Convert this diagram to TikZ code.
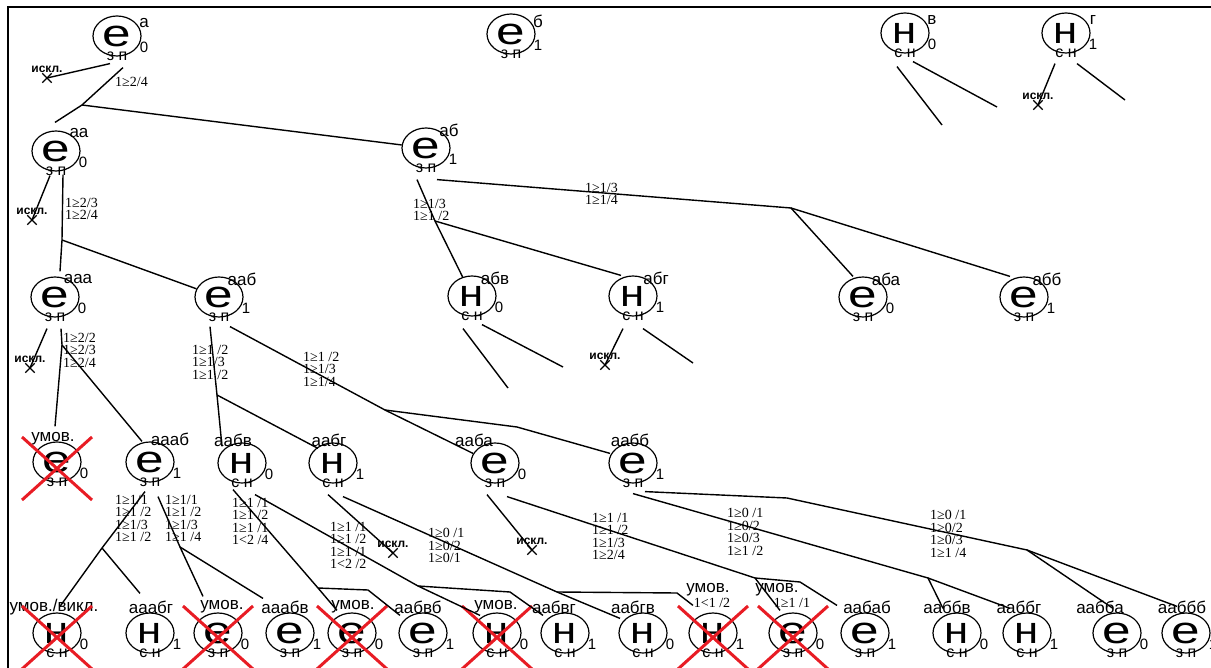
\documentclass[tikz,border=0pt]{standalone}
\usepackage{fontspec}
\setmainfont{Liberation Sans}
\newfontfamily\condfont{Liberation Serif}
\usetikzlibrary{shapes.geometric, shapes.misc, positioning, calc}
\definecolor{crossred}{RGB}{232,28,36}
\newcommand{\eletter}{\scalebox{1.35}[1]{е}}
\newcommand{\nletter}{\scalebox{1.15}[1]{н}}

\begin{document}
\begin{tikzpicture}[
    x=1pt, y=-1pt,
    every node/.style={inner sep=0pt},
    vert/.style={ellipse, draw, line width=1.2pt, minimum width=48pt, minimum height=40pt, font=\fontsize{38}{38}\selectfont},
    bot/.style={anchor=center, font=\fontsize{16}{16}\selectfont},
    sub/.style={anchor=center, font=\fontsize{15}{15}\selectfont},
    tag/.style={font=\fontsize{17}{17}\selectfont},
    ez/.style={vert, label={[bot, yshift=-20pt]center:з п}},
    nz/.style={vert, label={[bot, yshift=-20pt]center:с н}},
    s0/.style={label={[sub, xshift=27pt, yshift=-11pt]center:0}},
    s1/.style={label={[sub, xshift=27pt, yshift=-11pt]center:1}},
    tr0/.style={label={[tag, anchor=base west, xshift=27pt, yshift=13pt]center:#1}},
    tr/.style={label={[tag, anchor=base west, xshift=23pt, yshift=18pt]center:#1}},
    tu/.style 2 args={label={[tag, anchor=base, xshift=#1pt, yshift=23pt]center:#2}},
    tw/.style 2 args={label={[tag, anchor=base, xshift=#1pt, yshift=26pt]center:#2}},
    cond/.style={font=\condfont\fontsize{14}{12.5}\selectfont, align=left, anchor=north west},
    excl/.style={cross out, draw, line width=1.3pt, minimum size=8pt, label={[font=\bfseries\fontsize{12}{12}\selectfont, label distance=1pt]above:искл.}},
    line/.style={line width=1.4pt},
    redx/.style={draw=crossred, line width=3pt}
]
\useasboundingbox (0,0) rectangle (1211,668);

% frame
\draw[line width=2.5pt] (1211,7) -- (8,7) -- (8,668);

% level 0
\node[ez, s0, tr0=а] (a) at (117,36) {\eletter};
\node[ez, s1, tr0=б] (b) at (511,34) {\eletter};
\node[nz, s0, tr0=в] (v) at (905,33) {\nletter};
\node[nz, s1, tr0=г] (g) at (1066,33) {\nletter};

% level 1
\node[ez, s0, tr=аа] (aa) at (56,151) {\eletter};
\node[ez, s1, tr=аб] (ab) at (426,148) {\eletter};

% level 2
\node[ez, s0, tr=ааа] (aaa) at (55,297) {\eletter};
\node[ez, s1, tr=ааб] (aab) at (219,297) {\eletter};
\node[nz, s0, tr=абв] (abv) at (472,296) {\nletter};
\node[nz, s1, tr=абг] (abg) at (633,296) {\nletter};
\node[ez, s0, tr=аба] (aba) at (863,297) {\eletter};
\node[ez, s1, tr=абб] (abb) at (1024,297) {\eletter};

% level 3
\node[ez, s0, tu={-4}{умов.}] (aaaa) at (57,462) {\eletter};
\node[ez, s1, tu={20}{аааб}] (aaab) at (150,462) {\eletter};
\node[nz, s0, tu={-9}{аабв}] (aabv) at (242,463) {\nletter};
\node[nz, s1, tu={-4}{аабг}] (aabg) at (333,463) {\nletter};
\node[ez, s0, tu={-21}{ааба}] (aaba) at (495,463) {\eletter};
\node[ez, s1, tu={-3}{аабб}] (aabb) at (633,463) {\eletter};

% level 4
\node[nz, s0, tw={-3}{умов./викл.}] (q1) at (57,633) {\nletter};
\node[nz, s1, tw={1}{ааабг}] (aaabg) at (150,633) {\nletter};
\node[ez, s0, tw={4}{умов.}] (q3) at (218,633) {\eletter};
\node[ez, s1, tw={-5}{ааабв}] (aaabv) at (290,633) {\eletter};
\node[ez, s0, tw={1}{умов.}] (q5) at (352,633) {\eletter};
\node[ez, s1, tw={-5}{аабвб}] (aabvb) at (423,633) {\eletter};
\node[nz, s0, tw={-1}{умов.}] (q7) at (497,633) {\nletter};
\node[nz, s1, tw={-11}{аабвг}] (aabvg) at (565,633) {\nletter};
\node[nz, s0, tw={-10}{аабгв}] (aabgv) at (643,633) {\nletter};
\node[nz, s1, label={[tag, anchor=base, xshift=-5pt, yshift=43pt]center:умов.},
      label={[cond, anchor=base, xshift=-1pt, yshift=30pt]center:1<1 /2}] (q10) at (713,633) {\nletter};
\node[ez, s0, label={[tag, anchor=base, xshift=-16pt, yshift=43pt]center:умов.},
      label={[cond, anchor=base, xshift=-1pt, yshift=30pt]center:1≥1 /1}] (q11) at (793,633) {\eletter};
\node[ez, s1, tw={2}{аабаб}] (aabab) at (865,633) {\eletter};
\node[nz, s0, tw={-10}{ааббв}] (aabbv) at (957,633) {\nletter};
\node[nz, s1, tw={-8}{ааббг}] (aabbg) at (1027,633) {\nletter};
\node[ez, s0, tw={-17}{аабба}] (aabba) at (1117,633) {\eletter};
\node[ez, s1, tw={-4}{ааббб}] (aabbb) at (1186,633) {\eletter};

% struck out
\draw[redx] (aaaa.center) +(-35,-25) -- +(35,38) +(-35,38) -- +(35,-25);
\draw[redx] (q1.center) +(-35,-27) -- +(35,36) +(-35,36) -- +(35,-27);
\draw[redx] (q3.center) +(-35,-27) -- +(35,36) +(-35,36) -- +(35,-27);
\draw[redx] (q5.center) +(-35,-27) -- +(35,36) +(-35,36) -- +(35,-27);
\draw[redx] (q7.center) +(-35,-27) -- +(35,36) +(-35,36) -- +(35,-27);
\draw[redx] (q10.center) +(-35,-27) -- +(35,36) +(-35,36) -- +(35,-27);
\draw[redx] (q11.center) +(-35,-27) -- +(35,36) +(-35,36) -- +(35,-27);

% excluded
\node[excl] (xa) at (47,78) {};
\node[excl] (xg) at (1038,105) {};
\node[excl] (xaa) at (32,220) {};
\node[excl] (xaaa) at (30,368) {};
\node[excl] (xabg) at (605,365) {};
\node[excl] (xaabg) at (393,553) {};
\node[excl] (xaaba) at (532,550) {};

% branch points and loose ends
\coordinate (ba) at (82,105);
\coordinate (baa) at (62,240);
\coordinate (babv) at (435,221);
\coordinate (bab) at (791,208);
\coordinate (baaa) at (62,345);
\coordinate (baab) at (217,395);
\coordinate (baab2) at (385,410);
\coordinate (kaab) at (517,427);
\coordinate (bq1) at (102,548);
\coordinate (bq3) at (180,547);
\coordinate (bq5) at (318,588);
\coordinate (kq5) at (368,590);
\coordinate (bq7) at (418,586);
\coordinate (kq7) at (510,592);
\coordinate (bq10) at (557,592);
\coordinate (kq10) at (677,593);
\coordinate (bq11) at (755,578);
\coordinate (kq11) at (800,582);
\coordinate (kbb) at (787,498);
\coordinate (bbb) at (1027,550);
\coordinate (bbv) at (928,578);
\coordinate (fv1) at (942,125);
\coordinate (fv2) at (997,107);
\coordinate (fg) at (1125,100);
\coordinate (fabv1) at (508,388);
\coordinate (fabv2) at (563,367);
\coordinate (fabg) at (693,363);

% edges
\draw[line] ([xshift=-7pt,yshift=-7pt]a.south) -- (xa.center);
\draw[line] ([xshift=6pt,yshift=-11pt]a.south) -- (ba) -- ([xshift=-1pt,yshift=8pt]aa.north);
\draw[line] (ba) -- (ab);

\draw[line] ([xshift=-8pt,yshift=-13pt]v.south) -- (fv1);
\draw[line] ([xshift=8pt,yshift=-8pt]v.south) -- (fv2);
\draw[line] ([xshift=-11pt,yshift=-10pt]g.south) -- (xg.center);
\draw[line] ([xshift=11pt,yshift=-10pt]g.south) -- (fg);

\draw[line] ([xshift=-6pt,yshift=-4pt]aa.south) -- (xaa.center);
\draw[line] ([xshift=7pt,yshift=-3pt]aa.south) -- (baa) -- ([xshift=5pt,yshift=5pt]aaa.north);
\draw[line] (baa) -- (aab);

\draw[line] ([xshift=-9pt,yshift=-11pt]ab.south) -- (babv) -- (abv);
\draw[line] (babv) -- ([xshift=-12pt]abg.north);
\draw[line] ([xshift=11pt,yshift=-11pt]ab.south) -- (bab) -- ([xshift=-10pt]aba.north);
\draw[line] (bab) -- ([xshift=-14pt]abb.north);

\draw[line] ([xshift=-9pt,yshift=-12pt]abv.south) -- (fabv1);
\draw[line] ([xshift=10pt,yshift=-8pt]abv.south) -- (fabv2);
\draw[line] ([xshift=-10pt,yshift=-12pt]abg.south) -- (xabg.center);
\draw[line] ([xshift=10pt,yshift=-12pt]abg.south) -- (fabg);

\draw[line] ([xshift=-8pt,yshift=-11pt]aaa.south) -- (xaaa.center);
\draw[line] ([xshift=6pt,yshift=-11pt]aaa.south) -- (baaa) -- ([xshift=-2pt,yshift=15pt]aaaa.north);
\draw[line] (baaa) -- ([xshift=-8pt]aaab.north);

\draw[line] ([xshift=-9pt,yshift=-9pt]aab.south) -- (baab) -- ([xshift=-20pt,yshift=-4pt]aabv.north);
\draw[line] (baab) -- ([xshift=-15pt,yshift=-6pt]aabg.north);
\draw[line] ([xshift=11pt,yshift=-9pt]aab.south) -- (baab2) -- ([xshift=-22pt,yshift=-11pt]aaba.north);
\draw[line] (baab2) -- (kaab) -- ([xshift=-23pt,yshift=-11pt]aabb.north);

\draw[line] ([xshift=-5pt,yshift=-9pt]aaab.south) -- (bq1) -- ([xshift=3pt,yshift=6pt]q1.north);
\draw[line] (bq1) -- ([xshift=-10pt,yshift=19pt]aaabg.north);
\draw[line] ([xshift=8pt,yshift=-14pt]aaab.south) -- (bq3) -- ([xshift=-15pt,yshift=16pt]q3.north);
\draw[line] (bq3) -- ([xshift=-27pt,yshift=14pt]aaabv.north);

\draw[line] ([xshift=-9pt,yshift=-6pt]aabv.south) -- (bq5) -- ([xshift=-15pt,yshift=2pt]q5.north);
\draw[line] (bq5) -- (kq5) -- ([xshift=-23pt,yshift=-3pt]aabvb.north);
\draw[line] ([xshift=13pt,yshift=-11pt]aabv.south) -- (bq7) -- ([xshift=-17pt,yshift=-3pt]q7.north);
\draw[line] (bq7) -- (kq7) -- ([xshift=-22pt,yshift=-3pt]aabvg.north);

\draw[line] ([xshift=-5pt,yshift=-11pt]aabg.south) -- (xaabg.center);
\draw[line] ([xshift=10pt,yshift=-13pt]aabg.south) -- (bq10) -- ([xshift=-23pt,yshift=-6pt]aabgv.north);
\draw[line] (bq10) -- (kq10) -- ([xshift=-20pt,yshift=7pt]q10.north);

\draw[line] ([xshift=-8pt,yshift=-11pt]aaba.south) -- (xaaba.center);
\draw[line] ([xshift=12pt,yshift=-13pt]aaba.south) -- (bq11) -- ([xshift=-13pt,yshift=2pt]q11.north);
\draw[line] (bq11) -- (kq11) -- ([xshift=-28pt,yshift=7pt]aabab.north);

\draw[line] ([xshift=12pt,yshift=-8pt]aabb.south) -- (kbb) -- (bbb) -- ([xshift=-4pt,yshift=4pt]aabba.north);
\draw[line] (bbb) -- ([xshift=-9pt,yshift=6pt]aabbb.north);
\draw[line] ([yshift=-10pt]aabb.south) -- (bbv) -- ([xshift=-14pt,yshift=4pt]aabbv.north);
\draw[line] (bbv) -- ([xshift=-17pt,yshift=4pt]aabbg.north);

% conditions on edges
\node[cond] (c1) at (115,77) {1≥2/4};
\node[cond] (c2) at (65,198) {1≥2/3\\1≥2/4};
\node[cond] (c3) at (413,199) {1≥1/3\\1≥1 /2};
\node[cond] (c4) at (585,183) {1≥1/3\\1≥1/4};
\node[cond] (c5) at (63,333) {1≥2/2\\1≥2/3\\1≥2/4};
\node[cond] (c6) at (192,345) {1≥1 /2\\1≥1/3\\1≥1 /2};
\node[cond] (c7) at (303,352) {1≥1 /2\\1≥1/3\\1≥1/4};
\node[cond] (c8) at (115,495) {1≥1/1\\1≥1 /2\\1≥1/3\\1≥1 /2};
\node[cond] (c9) at (165,495) {1≥1/1\\1≥1 /2\\1≥1/3\\1≥1 /4};
\node[cond] (c10) at (232,498) {1≥1 /1\\1≥1 /2\\1≥1 /1\\1<2 /4};
\node[cond] (c11) at (330,522) {1≥1 /1\\1≥1 /2\\1≥1 /1\\1<2 /2};
\node[cond] (c12) at (428,528) {1≥0 /1\\1≥0/2\\1≥0/1};
\node[cond] (c13) at (592,513) {1≥1 /1\\1≥1 /2\\1≥1/3\\1≥2/4};
\node[cond] (c14) at (727,508) {1≥0 /1\\1≥0/2\\1≥0/3\\1≥1 /2};
\node[cond] (c15) at (930,510) {1≥0 /1\\1≥0/2\\1≥0/3\\1≥1 /4};

\end{tikzpicture}
\end{document}
